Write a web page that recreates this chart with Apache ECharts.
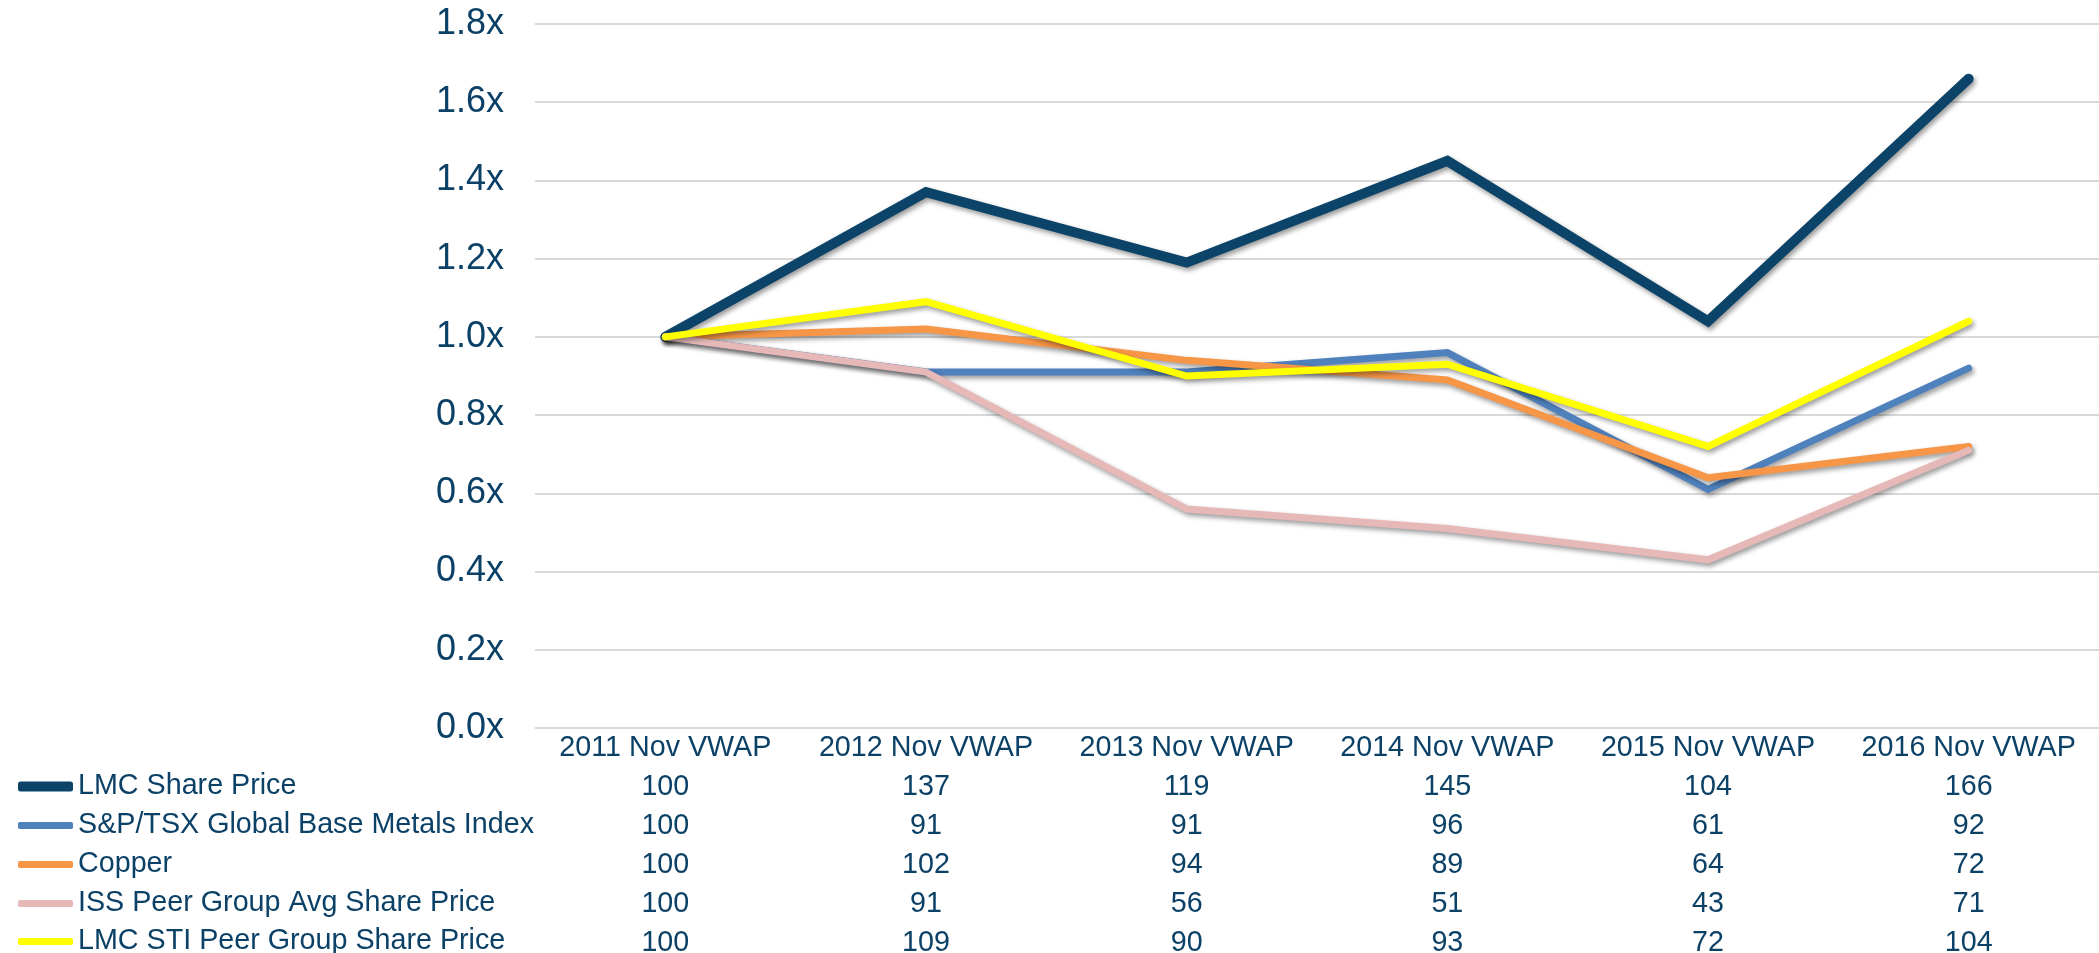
<!DOCTYPE html>
<html>
<head>
<meta charset="utf-8">
<script src="https://cdn.jsdelivr.net/npm/echarts@6/dist/echarts.min.js"></script>
<style>
  html, body { margin: 0; padding: 0; background: #fff; }
  #chart-container { width: 2099px; height: 953px; }
</style>
</head>
<body>
<div id="chart-container"></div>
<script>
var categories = ["2011 Nov VWAP", "2012 Nov VWAP", "2013 Nov VWAP", "2014 Nov VWAP", "2015 Nov VWAP", "2016 Nov VWAP"];
var seriesNames = [
  "LMC Share Price",
  "S&P/TSX Global Base Metals Index",
  "Copper",
  "ISS Peer Group Avg Share Price",
  "LMC STI Peer Group Share Price"
];
// indexed values (2011 = 100), as shown in the data table
var lmcShare = [100, 137, 119, 145, 104, 166];
var tsxMetals = [100, 91, 91, 96, 61, 92];
var copper = [100, 102, 94, 89, 64, 72];
var issPeers = [100, 91, 56, 51, 43, 71];
var stiPeers = [100, 109, 90, 93, 72, 104];
var seriesValues = [lmcShare, tsxMetals, copper, issPeers, stiPeers];
var colors = ["#0B4468", "#4F81BD", "#F79646", "#E6B9B8", "#FFFF00"];
var widths = [10, 7, 7, 7, 7];
var textColor = "#0C4167";
var fontFamily = "'Liberation Sans', Arial, sans-serif";

var dom = document.getElementById("chart-container");
var myChart = echarts.init(dom, null, { renderer: "canvas" });

var rowTops = [767, 806, 845, 884, 922];

var option = {
  animation: false,
  grid: { left: 535, right: 0, top: 24, bottom: 225, containLabel: false, outerBoundsMode: "none" },
  legend: seriesNames.map(function (name, i) {
    return {
      data: [name],
      left: 13,
      top: rowTops[i],
      icon: "roundRect",
      itemWidth: 55,
      itemHeight: widths[i],
      selectedMode: false,
      textStyle: { color: textColor, fontSize: 28.7, lineHeight: 28, fontFamily: fontFamily }
    };
  }),
  xAxis: {
    type: "category",
    data: categories,
    boundaryGap: true,
    axisLine: { show: false },
    axisTick: { show: false },
    axisLabel: {
      margin: 1,
      interval: 0,
      color: textColor,
      fontSize: 28.7,
      lineHeight: 39,
      fontFamily: fontFamily,
      formatter: function (value, idx) {
        var lines = [value];
        seriesValues.forEach(function (arr) { lines.push(String(arr[idx])); });
        return lines.join("\n");
      }
    }
  },
  yAxis: {
    type: "value",
    min: 0,
    max: 1.8,
    interval: 0.2,
    axisLine: { show: false },
    axisTick: { show: false },
    splitLine: { lineStyle: { color: "#D9D9D9", width: 2 } },
    axisLabel: {
      margin: 31,
      color: textColor,
      fontSize: 36,
      fontFamily: fontFamily,
      formatter: function (v) { return v.toFixed(1) + "x"; }
    }
  },
  series: seriesNames.map(function (name, i) {
    return {
      name: name,
      type: "line",
      data: seriesValues[i].map(function (v) { return v / 100; }),
      showSymbol: false,
      color: colors[i],
      lineStyle: {
        color: colors[i],
        width: widths[i],
        cap: "round",
        join: "miter",
        shadowColor: "rgba(0,0,0,0.4)",
        shadowBlur: 5,
        shadowOffsetX: 2,
        shadowOffsetY: 3
      }
    };
  })
};

if (option && typeof option === "object") {
  myChart.setOption(option);
}

window.addEventListener("resize", myChart.resize);
</script>
</body>
</html>
